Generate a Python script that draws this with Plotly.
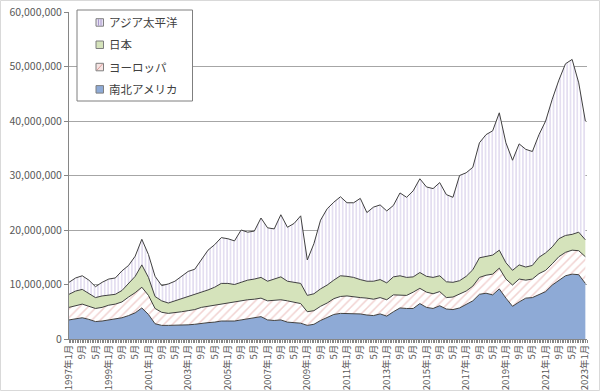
import plotly.graph_objects as go

# month index (0 = 1997年1月), sampled every 4 months
months = list(range(0, 313, 4))

# values in millions
americas = [3.5, 3.7, 3.9, 3.6, 3.2, 3.3, 3.5, 3.6, 3.9, 4.3, 4.8, 5.7, 4.5, 2.8, 2.5,
            2.5, 2.5, 2.6, 2.6, 2.7, 2.9, 3.0, 3.1, 3.3, 3.3, 3.3, 3.5, 3.7, 3.9, 4.1,
            3.5, 3.4, 3.5, 3.1, 3.0, 2.9, 2.5, 2.7, 3.4, 4.0, 4.5, 4.7, 4.7, 4.6, 4.6,
            4.4, 4.3, 4.6, 4.2, 5.0, 5.7, 5.6, 5.6, 6.5, 5.8, 5.6, 6.1, 5.5, 5.4, 5.7,
            6.4, 7.0, 8.2, 8.4, 8.1, 9.2, 7.5, 6.0, 6.8, 7.5, 7.6, 8.2, 8.7, 9.9, 10.8,
            11.6, 11.9, 11.8, 10.2]
europe = [2.3, 2.4, 2.5, 2.4, 2.4, 2.5, 2.7, 2.8, 2.9, 3.4, 3.7, 3.8, 3.5, 2.8, 2.4,
          2.2, 2.3, 2.4, 2.6, 2.7, 2.9, 3.0, 3.1, 3.2, 3.4, 3.6, 3.6, 3.5, 3.4, 3.4,
          3.5, 3.7, 3.7, 3.9, 3.8, 3.6, 2.5, 2.5, 2.6, 2.6, 2.9, 3.1, 3.2, 3.1, 3.0,
          3.1, 3.0, 3.0, 3.0, 3.1, 2.4, 2.4, 3.0, 2.8, 2.8, 2.7, 2.6, 2.1, 2.3, 2.5,
          2.4, 2.7, 3.1, 3.3, 3.8, 3.8, 3.5, 3.9, 4.2, 3.3, 3.4, 3.8, 3.9, 3.9, 4.3,
          4.3, 4.4, 4.4, 4.9]
japan = [2.4, 2.7, 2.7, 2.3, 2.0, 2.1, 1.9, 1.8, 2.1, 2.5, 3.0, 4.1, 3.3, 2.2, 2.1,
         1.9, 2.2, 2.3, 2.6, 2.7, 2.8, 3.0, 3.3, 3.7, 3.5, 3.1, 3.3, 3.6, 3.7, 3.8,
         3.6, 3.9, 4.2, 3.6, 3.6, 3.7, 3.0, 3.1, 3.2, 3.3, 3.4, 3.8, 3.6, 3.6, 3.3,
         3.1, 3.3, 3.3, 3.1, 3.3, 3.5, 3.3, 2.8, 2.9, 2.9, 3.0, 2.9, 2.9, 2.7, 2.5,
         2.7, 3.0, 3.6, 3.4, 3.5, 3.3, 3.0, 2.7, 2.6, 2.4, 2.5, 3.0, 3.2, 3.1, 3.3,
         3.1, 2.9, 3.4, 3.1]
asia = [2.2, 2.4, 2.5, 2.5, 2.0, 2.5, 2.9, 3.0, 3.6, 3.3, 3.7, 4.7, 4.2, 3.7, 2.8,
        3.5, 3.6, 4.2, 4.6, 4.7, 5.9, 7.3, 7.8, 8.4, 8.2, 8.0, 9.6, 8.8, 8.8, 10.9,
        9.8, 9.2, 11.4, 9.9, 10.8, 12.4, 6.5, 9.2, 12.6, 14.0, 14.3, 14.5, 13.5, 13.7, 14.9,
        12.6, 13.6, 13.7, 13.2, 13.1, 15.2, 14.7, 15.8, 17.2, 16.4, 16.3, 17.1, 16.0, 15.6, 19.3,
        19.0, 18.8, 21.1, 22.4, 22.8, 25.2, 22.0, 20.2, 22.2, 21.6, 20.9, 22.5, 24.2, 27.1, 29.1,
        31.5, 32.1, 27.4, 21.8]

series = [
    ("南北アメリカ", americas),
    ("ヨーロッパ", europe),
    ("日本", japan),
    ("アジア太平洋", asia),
]
legend_order = ["アジア太平洋", "日本", "ヨーロッパ", "南北アメリカ"]

# tick labels every 8 months
tick_vals = list(range(0, 313, 8))
tick_text = []
for m in tick_vals:
    y, mo = 1997 + m // 12, m % 12 + 1
    tick_text.append(f"{y}年1月" if mo == 1 else f"{mo}月")

FONT = "Noto Sans CJK JP, Noto Sans, sans-serif"
LINE = "#404040"

styles = {
    "南北アメリカ": dict(fillcolor="#8eaad6", pattern=None, tint="#8eaad6"),
    "ヨーロッパ": dict(fillcolor="white",
                   pattern=dict(shape="/", fgcolor="#e3a6a3", bgcolor="white",
                                size=6, solidity=0.25), tint="#f6e4e3"),
    "日本": dict(fillcolor="#d5e3bb", pattern=None, tint="#d5e3bb"),
    "アジア太平洋": dict(fillcolor="white",
                     pattern=dict(shape="|", fgcolor="#bcaedb", bgcolor="white",
                                  size=3.4, solidity=0.4), tint="#e6e0f2"),
}

fig = go.Figure()
for name, vals in series:
    st = styles[name]
    kw = dict(
        x=months, y=[v * 1e6 for v in vals], name=name, mode="lines",
        stackgroup="one", line=dict(color=LINE, width=1),
        fillcolor=st["fillcolor"], showlegend=False, hoverinfo="skip",
    )
    if st["pattern"]:
        kw["fillpattern"] = st["pattern"]
    fig.add_trace(go.Scatter(**kw))

L, R, T, B = 69, 13, 12, 52
W, H = 600, 391
pw, ph = W - L - R, H - T - B


def px(x):
    return (x - L) / pw


def py(y):
    return (H - B - y) / ph


shapes = []
annotations = []

# legend box
shapes.append(dict(type="rect", xref="paper", yref="paper", layer="above",
                   x0=px(77), x1=px(192.5), y0=py(101), y1=py(10),
                   line=dict(color="#7f7f7f", width=1), fillcolor="white"))
for i, name in enumerate(legend_order):
    cy = 22 + i * 22.3
    st = styles[name]
    shapes.append(dict(type="rect", xref="paper", yref="paper", layer="above",
                       x0=px(96), x1=px(103.5), y0=py(cy + 4.2), y1=py(cy - 3.3),
                       line=dict(color="#7f7f7f", width=1), fillcolor=st["tint"]))
    if name == "アジア太平洋":
        for xx in (98.5, 101):
            shapes.append(dict(type="line", xref="paper", yref="paper", layer="above",
                               x0=px(xx), x1=px(xx), y0=py(cy + 3.7), y1=py(cy - 2.8),
                               line=dict(color="#a898cc", width=1)))
    if name == "ヨーロッパ":
        shapes.append(dict(type="line", xref="paper", yref="paper", layer="above",
                           x0=px(97), x1=px(102.5), y0=py(cy + 3.5), y1=py(cy - 2.6),
                           line=dict(color="#d99a97", width=1)))
    annotations.append(dict(xref="paper", yref="paper", x=px(106.5), y=py(cy),
                            text=name, showarrow=False, xanchor="left", yanchor="middle",
                            font=dict(family=FONT, size=11.5, color="#404040")))

# chart-area border
shapes.append(dict(type="rect", xref="paper", yref="paper", layer="above",
                   x0=px(0.5), x1=px(W - 0.5), y0=py(H - 0.5), y1=py(0.5),
                   line=dict(color="#d9d9d9", width=1), fillcolor="rgba(0,0,0,0)"))

fig.update_layout(
    width=W, height=H,
    margin=dict(l=L, r=R, t=T, b=B, pad=0),
    paper_bgcolor="white", plot_bgcolor="white",
    font=dict(family=FONT, size=11, color="#595959"),
    showlegend=False,
    xaxis=dict(
        range=[0, 313], tickmode="array", tickvals=tick_vals, ticktext=tick_text,
        tickangle=-90, showgrid=False, zeroline=False, automargin=False,
        showline=True, linecolor="#868686", linewidth=1,
        ticks="outside", ticklen=3, tickcolor="#868686",
        ticklabelstandoff=-2,
        tickfont=dict(family=FONT, size=9.5, color="#595959"),
        minor=dict(tickmode="linear", tick0=0, dtick=1, ticks="outside",
                   ticklen=3, tickcolor="#868686", showgrid=False),
    ),
    yaxis=dict(
        range=[0, 60e6], tickmode="array", tickvals=[i * 1e7 for i in range(7)],
        tickformat=",d", showgrid=True, gridcolor="#a6a6a6", gridwidth=1,
        zeroline=False, showline=True, linecolor="#868686", linewidth=1,
        ticks="outside", ticklen=4, tickcolor="#868686", automargin=False,
        tickfont=dict(family=FONT, size=10.5, color="#595959"),
    ),
    shapes=shapes,
    annotations=annotations,
)

fig.write_html(
    "out.html",
    config={"displayModeBar": False},
    post_script="document.body.style.margin='0';document.body.style.padding='0';"
                "document.body.style.overflow='hidden';",
)
